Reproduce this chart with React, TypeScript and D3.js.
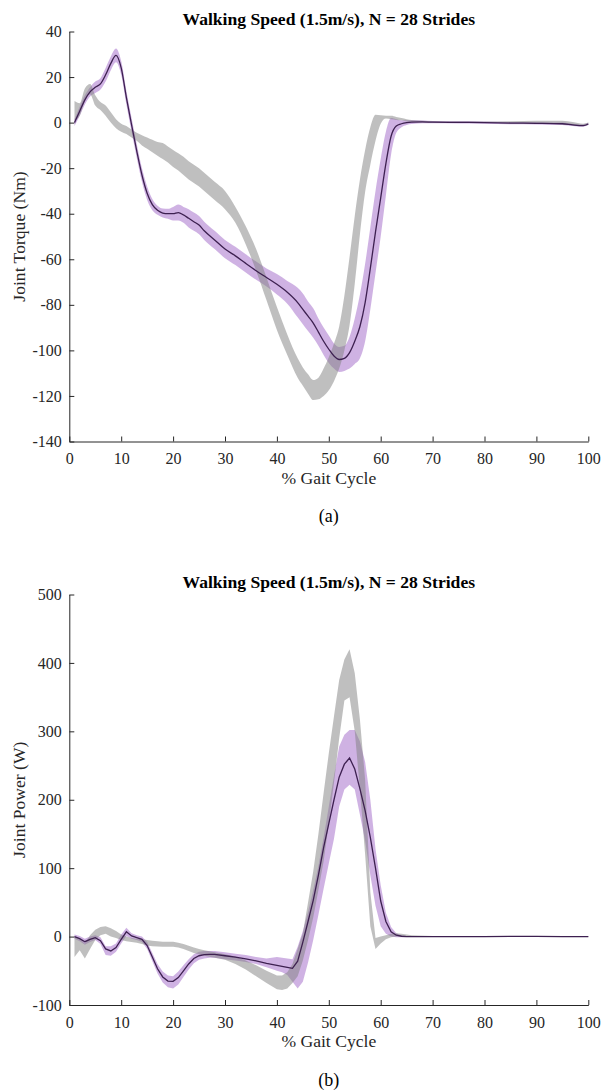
import { useEffect, useRef } from "react";
import * as d3 from "d3";

const FONT = '"Liberation Serif", "Times New Roman", serif';

// x positions (% gait cycle) for the torque panel
const torqueX = [1, 2, 3, 4, 5, 6, 7, 8, 9, 10, 11, 12, 13, 14, 15, 16, 17, 18, 19, 20, 21, 22, 23, 24, 25, 26,
    28, 30, 32, 34, 36, 38, 40, 42, 44,
    45, 46, 47, 48, 49, 50, 51, 52, 53, 54, 55, 56, 57, 58, 59, 60, 61, 62, 63, 64, 65, 66,
    68, 70, 75, 80, 85, 90, 95, 97, 99, 100];

// purple subject: mean and shaded band
const torqueMean = [0, 5, 10, 13.5, 15.5, 17, 21, 26, 29.5, 24, 11, -1, -12.5, -23, -31, -36, -38.5, -39.7, -40, -40, -39.5, -40.5, -42, -43.5, -45, -47.5,
    -51.5, -55.5, -58.5, -61.8, -65, -68, -71, -74.5, -79,
    -82, -85, -88, -92, -96, -99.5, -102.5, -104, -103.5, -101, -96, -89.5, -79, -64, -48, -33, -18, -6, -1.5, -0.5, 0, 0.2,
    0.3, 0.2, 0.1, 0, -0.2, -0.3, -0.5, -1.0, -1.3, -0.6];
const torqueLo = [-1.5, 3, 8, 11.5, 13, 14.5, 18, 23, 26.5, 21, 8, -4, -15.5, -26, -34, -38.5, -40.5, -41.7, -42.2, -43, -43, -44, -46, -47.5, -49, -51.5,
    -55.5, -59.5, -62.5, -65.8, -69, -72, -75.5, -79.5, -85.5,
    -88.5, -91.5, -94.5, -98, -102, -105.5, -108, -109.5, -109, -108, -106, -103.5, -96, -82, -66, -50, -32, -14, -4.5, -2, -1, -0.6,
    -0.3, -0.3, -0.4, -0.5, -0.7, -0.8, -1, -1.5, -1.8, -1.1];
const torqueHi = [1.5, 7, 12, 15.5, 18, 19.5, 24, 29, 32.5, 27, 14, 2, -9.5, -20, -28, -33.5, -36.5, -37.7, -37.8, -37, -36, -37, -38, -39.5, -41, -43.5,
    -47.5, -51.5, -54.5, -57.8, -61, -64, -66.5, -69.5, -72.5,
    -75, -78.5, -81.5, -86, -90, -93.5, -97, -98.5, -98, -94, -86, -75.5, -62, -46, -30, -16, -4, 2, 1.5, 1, 1, 1,
    0.9, 0.7, 0.6, 0.5, 0.3, 0.2, 0, -0.5, -0.8, -0.1];

// gray reference band
const torqueRefLo = [1, 3, 9.5, 12.5, 7.5, 5.5, 3, 0, -2.5, -4, -5, -6.5, -8, -10, -11.5, -13, -14.5, -16, -17.5, -19.5, -21, -23, -25, -26.5, -28, -30,
    -34, -38, -44, -53.5, -65, -78, -91, -102, -112,
    -115.5, -119, -121.8, -121.5, -120, -117.5, -113.5, -108, -100, -89, -70.7, -49, -30.5, -18.5, -8, -0.5, 1.8, 1.5, 1.2, 1, 0.5, 0.3,
    0, 0, -0.1, -0.2, -0.3, -0.5, -0.7, -1.2, -1.5, -1];
const torqueRefHi = [9.5, 8.5, 15, 17, 12, 9, 7.5, 4.5, 1.5, -0.5, -1.5, -3, -4.5, -5.5, -6.5, -7.5, -8.5, -9, -10.5, -12, -13.5, -15, -17, -18.5, -20, -22,
    -26, -30, -37, -45.5, -55.5, -68, -81, -93, -103.5,
    -107.5, -110.5, -113, -112, -108, -103, -97, -89.5, -76, -59, -41, -25, -12, -2, 3.5, 3.2, 3, 3, 2.5, 2, 1.5, 1.2,
    0.8, 0.6, 0.5, 0.5, 0.6, 0.8, 0.8, 0.3, -0.5, 0];

// x positions for the power panel
const powerX = [1, 2, 3, 4, 5, 6, 7, 8, 9, 10, 11, 12, 13, 14, 15, 16, 17, 18, 19, 20, 21, 22, 23, 24, 25, 26, 27, 28,
    30, 32, 34, 36, 38,
    40, 41, 42, 43, 44, 45, 46, 47, 48, 49, 50, 51, 52, 53, 54, 55, 56, 57, 58, 59, 60, 61, 62, 63, 64, 65, 66,
    70, 75, 80, 85, 90, 95, 100];

const powerMean = [0, -3, -7.5, -4, -1.5, -6, -18, -21, -16, -4, 7, 1, -1.5, -4, -13, -30, -47, -59, -65, -65.5, -60, -50, -40, -32, -28, -26.5, -26, -26,
    -28, -30, -32.5, -35.5, -39,
    -42, -43.5, -45, -46.5, -36, -8, 22, 53, 90, 130, 165, 200, 233, 252, 261, 245, 216, 184, 145, 100, 52, 22, 7, 2, 0.5, 0, 0,
    0, 0, 0, 0.3, 0.3, 0, 0];
const powerLo = [-3, -7, -12, -8, -5, -11, -27, -28, -22, -10, 1, -3, -5, -8, -18, -36, -54, -67, -74, -76, -70, -59, -48, -39, -34, -32, -31, -31,
    -33, -35, -37, -40, -45,
    -50, -52, -56, -66, -76, -66, -38, -5, 32, 70, 107, 143, 190, 215, 222, 215, 178, 140, 90, 45, 15, 4, 0, -1, -1, -0.5, -0.5,
    -0.5, -0.5, -0.5, -0.5, -0.5, -0.5, -0.5];
const powerHi = [3, 1, -3, 0, 2, -1, -14, -14, -10, 3, 13, 5, 2, 0, -8, -24, -40, -51, -57, -58, -51, -42, -33, -26, -22, -21, -21, -21,
    -23, -25, -27, -30, -32,
    -30, -31, -32, -33, -15, 8, 36, 68, 103, 145, 190, 235, 278, 295, 302, 302, 285, 255, 200, 128, 75, 35, 14, 5, 2, 1, 0.5,
    0.5, 0.5, 0.5, 0.8, 0.8, 0.5, 0.5];

const powerRefLo = [-30, -20, -32, -18, -5, 2, 4, 0, -2, -5, -7, -8, -9, -11, -13, -14, -14.5, -15, -15, -15, -16, -18, -21, -24, -26, -28, -29.5, -31,
    -34, -40, -48, -58, -68,
    -77, -78, -76, -68, -58, -35, -5, 28, 68, 110, 165, 225, 290, 345, 350, 300, 215, 120, 15, -18, -10, -4, -1, 0, 0, 0, 0,
    0, -0.5, -0.5, -0.5, -0.5, -0.5, -0.5];
const powerRefHi = [0, -3, -10, 2, 10, 14, 15, 12, 8, 3, 0, -2, -3, -4, -5, -6, -7, -7.5, -7.5, -7.5, -9, -11, -13.5, -16, -18, -20, -21.5, -23,
    -26, -29, -35, -42, -50,
    -57, -57, -52, -40, -18, 5, 50, 95, 150, 210, 268, 322, 375, 405, 420, 385, 317, 229, 65, -2, 0, 2, 4, 5, 4, 3, 2,
    1, 0.5, 0.5, 0.5, 0.5, 0.5, 0.5];

const gaitTicks = [0, 10, 20, 30, 40, 50, 60, 70, 80, 90, 100];
const torqueTicks = [-140, -120, -100, -80, -60, -40, -20, 0, 20, 40];
const powerTicks = [-100, 0, 100, 200, 300, 400, 500];

const TITLE = "Walking Speed (1.5m/s), N = 28 Strides";

const colors = {
    band: "#a066c8",
    ref: "#808080",
    mean: "#3d2050",
    axis: "#262626",
};

const GaitPanel = ({xs, mean, lo, hi, refLo, refHi, yDomain, yTicks, top, bottom, yLabel, caption, curve}) => {
    const axisRef = useRef(null);

    const x = d3.scaleLinear().domain([0, 100]).range([69.3, 588.3]);
    const y = d3.scaleLinear().domain(yDomain).range([bottom, top]);
    const idx = d3.range(xs.length);

    const area = (l, h) => d3.area()
        .x(i => x(xs[i]))
        .y0(i => y(l[i]))
        .y1(i => y(h[i]))
        .curve(curve)(idx);

    const meanPath = d3.line()
        .x(i => x(xs[i]))
        .y(i => y(mean[i]))
        .curve(curve)(idx);

    useEffect(() => {
        const g = d3.select(axisRef.current);
        g.selectAll("*").remove();

        g.append("g")
            .attr("transform", `translate(${x(0)},0)`)
            .call(d3.axisLeft(y).tickValues(yTicks).tickFormat(d => String(d))
                .tickSizeInner(-5).tickSizeOuter(0).tickPadding(7.5));

        g.append("g")
            .attr("transform", `translate(0,${y(yDomain[0])})`)
            .call(d3.axisBottom(x).tickValues(gaitTicks).tickFormat(d => String(d))
                .tickSizeInner(-5).tickSizeOuter(0).tickPadding(11.5));

        g.selectAll(".domain, .tick line").attr("stroke", colors.axis).attr("stroke-width", 1);
        g.selectAll("text")
            .attr("fill", colors.axis)
            .attr("font-size", 16)
            .attr("font-family", FONT);
    }, [yDomain, yTicks, top, bottom]);

    const cx = (x(0) + x(100)) / 2;

    return (
        <g>
            <path d={area(lo, hi)} fill={colors.band} fillOpacity={0.5} stroke="none" />
            <path d={area(refLo, refHi)} fill={colors.ref} fillOpacity={0.5} stroke="none" />
            <path d={meanPath} fill="none" stroke={colors.mean} strokeWidth={1.3} />
            <g ref={axisRef} />
            <text x={cx} y={top - 6.5} textAnchor="middle" fontFamily={FONT} fontWeight="bold"
                  fontSize={17.6} fill="#000">{TITLE}</text>
            <text transform={`translate(25,${(top + bottom) / 2}) rotate(-90)`} textAnchor="middle"
                  fontFamily={FONT} fontSize={17.6} fill={colors.axis}>{yLabel}</text>
            <text x={cx} y={bottom + 42} textAnchor="middle" fontFamily={FONT} fontSize={17.6}
                  fill={colors.axis}>% Gait Cycle</text>
            <text x={cx} y={bottom + 80.5} textAnchor="middle" fontFamily={FONT} fontSize={18}
                  fill="#000">{caption}</text>
        </g>
    );
};

export default function App() {
    return (
        <svg width={601} height={1092} style={{position: "absolute", left: 0, top: 0, background: "#fff"}}>
            <GaitPanel xs={torqueX} mean={torqueMean} lo={torqueLo} hi={torqueHi}
                       refLo={torqueRefLo} refHi={torqueRefHi}
                       yDomain={[-140, 40]} yTicks={torqueTicks} top={31.5} bottom={441.5}
                       yLabel="Joint Torque (Nm)" caption="(a)" curve={d3.curveMonotoneX} />
            <GaitPanel xs={powerX} mean={powerMean} lo={powerLo} hi={powerHi}
                       refLo={powerRefLo} refHi={powerRefHi}
                       yDomain={[-100, 500]} yTicks={powerTicks} top={594.5} bottom={1005}
                       yLabel="Joint Power (W)" caption="(b)" curve={d3.curveLinear} />
        </svg>
    );
}
